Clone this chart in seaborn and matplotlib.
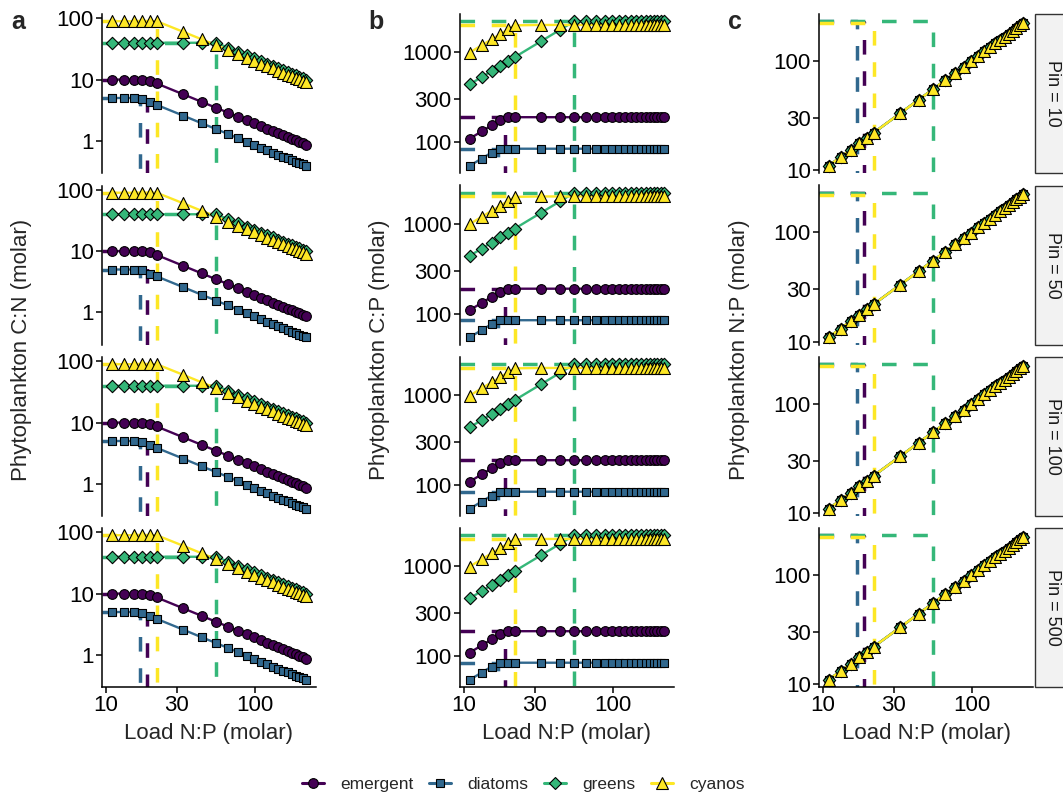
import numpy as np
import pandas as pd
import matplotlib
matplotlib.use("Agg")
import matplotlib.pyplot as plt
import seaborn as sns
from matplotlib.lines import Line2D
from matplotlib.patches import Rectangle
from matplotlib.ticker import FixedLocator, FixedFormatter, NullLocator

# ---------------------------------------------------------------- data
species = ["emergent", "diatoms", "greens", "cyanos"]
pin_levels = [10, 50, 100, 500]

load_np = [11, 13.2, 15.4, 17.6, 19.8, 22, 33, 44, 55, 66, 77, 88, 99,
           110, 121, 132, 143, 154, 165, 176, 187, 198, 209, 220]

# phytoplankton C:N (molar)
cn_emergent = [10, 10, 10, 10, 9.6, 8.64, 5.76, 4.32, 3.45, 2.88, 2.47, 2.16,
               1.92, 1.73, 1.57, 1.44, 1.33, 1.23, 1.15, 1.08, 1.02, 0.96, 0.91, 0.86]
cn_diatoms = [5, 5, 5, 4.83, 4.29, 3.86, 2.58, 1.93, 1.55, 1.29, 1.10, 0.97,
              0.86, 0.77, 0.70, 0.64, 0.59, 0.55, 0.52, 0.48, 0.45, 0.43, 0.41, 0.39]
cn_greens = [40, 40, 40, 40, 40, 40, 40, 40, 40, 33.3, 28.6, 25.0,
             22.2, 20.0, 18.2, 16.7, 15.4, 14.3, 13.3, 12.5, 11.8, 11.1, 10.5, 10.0]
cn_cyanos = [90, 90, 90, 90, 90, 90, 60.6, 45.5, 36.4, 30.3, 26.0, 22.7,
             20.2, 18.2, 16.5, 15.2, 14.0, 13.0, 12.1, 11.4, 10.7, 10.1, 9.6, 9.1]

# phytoplankton C:P (molar)
cp_emergent = [110, 132, 154, 176, 190, 190, 190, 190, 190, 190, 190, 190,
               190, 190, 190, 190, 190, 190, 190, 190, 190, 190, 190, 190]
cp_diatoms = [55, 66, 77, 85, 85, 85, 85, 85, 85, 85, 85, 85,
              85, 85, 85, 85, 85, 85, 85, 85, 85, 85, 85, 85]
cp_greens = [440, 528, 616, 704, 792, 880, 1320, 1760, 2200, 2200, 2200, 2200,
             2200, 2200, 2200, 2200, 2200, 2200, 2200, 2200, 2200, 2200, 2200, 2200]
cp_cyanos = [990, 1188, 1386, 1584, 1782, 1980, 2000, 2000, 2000, 2000, 2000, 2000,
             2000, 2000, 2000, 2000, 2000, 2000, 2000, 2000, 2000, 2000, 2000, 2000]

# phytoplankton N:P (molar) -- identical for all four groups
cell_np = [11, 13.2, 15.4, 17.6, 19.8, 22, 33, 44, 55, 66, 77, 88, 99,
           110, 121, 132, 143, 154, 165, 176, 187, 198, 209, 220]

# critical load N:P of each group and the plateau it marks
crit_np = [19, 17, 55, 22]
cn_max = [10, 5, 40, 90]
cp_max = [190, 85, 2200, 2000]
np_top = [226, 228, 228, 218]

cn_vals = dict(zip(species, [cn_emergent, cn_diatoms, cn_greens, cn_cyanos]))
cp_vals = dict(zip(species, [cp_emergent, cp_diatoms, cp_greens, cp_cyanos]))

rows = []
for pin in pin_levels:
    for sp in species:
        for i, x in enumerate(load_np):
            rows.append(dict(pin=pin, species=sp, load=x,
                             cn=cn_vals[sp][i], cp=cp_vals[sp][i], np=cell_np[i]))
df = pd.DataFrame(rows)

# ---------------------------------------------------------------- style
sns.set_theme(style="ticks")
plt.rcParams["font.family"] = ["Liberation Sans", "DejaVu Sans"]

palette = dict(zip(species, ["#440154", "#31688E", "#35B779", "#FDE725"]))
markers = dict(zip(species, ["o", "s", "D", "^"]))
msize = dict(zip(species, [7.0, 6.0, 6.3, 8.6]))

W, H = 1063, 796
fig = plt.figure(figsize=(W / 100, H / 100), dpi=100)


def box(x0, y0, w, h):
    return [x0 / W, 1 - (y0 + h) / H, w / W, h / H]


def log_limits(vals, frac=0.05):
    lo, hi = np.log10(min(vals)), np.log10(max(vals))
    pad = (hi - lo) * frac
    return 10 ** (lo - pad), 10 ** (hi + pad)


col_x = [102, 460, 819]
col_w = 214
row_y = [14, 185.5, 357, 528]
row_h = 159

panels = [
    dict(col="cn", ref=cn_max, ticks=[1, 10, 100], labels=["1", "10", "100"],
         title="Phytoplankton C:N (molar)", letter="a"),
    dict(col="cp", ref=cp_max, ticks=[100, 300, 1000], labels=["100", "300", "1000"],
         title="Phytoplankton C:P (molar)", letter="b"),
    dict(col="np", ref=np_top, ticks=[10, 30, 100], labels=["10", "30", "100"],
         title="Phytoplankton N:P (molar)", letter="c"),
]

xlim = log_limits(load_np)

for r, pin in enumerate(pin_levels):
    sub_pin = df[df.pin == pin]
    for c, p in enumerate(panels):
        ax = fig.add_axes(box(col_x[c], row_y[r], col_w, row_h))
        ax.set_xscale("log")
        ax.set_yscale("log")
        ylim = log_limits(list(sub_pin[p["col"]]) + list(p["ref"]))

        # dashed guides: plateau value from the left edge, then down at the critical N:P
        for i, sp in enumerate(species):
            yv = p["ref"][i]
            ax.plot([xlim[0], crit_np[i], crit_np[i]], [yv, yv, ylim[0]],
                    color=palette[sp], lw=2.5, ls=(0, (4.2, 4.8)),
                    dash_joinstyle="round", dash_capstyle="butt", zorder=1)

        sns.lineplot(data=sub_pin, x="load", y=p["col"], hue="species",
                     hue_order=species, palette=palette, lw=1.7,
                     estimator=None, legend=False, ax=ax, zorder=2)
        for sp in species:
            sns.scatterplot(data=sub_pin[sub_pin.species == sp], x="load", y=p["col"],
                            color=palette[sp], marker=markers[sp], s=msize[sp] ** 2,
                            edgecolor="black", linewidth=0.8, legend=False,
                            ax=ax, zorder=3, clip_on=False)

        ax.set_xlim(xlim)
        ax.set_ylim(ylim)
        ax.set_xlabel("")
        ax.set_ylabel("")
        for s in ["top", "right"]:
            ax.spines[s].set_visible(False)
        ax.spines["left"].set_linewidth(1.1)
        ax.spines["left"].set_color("black")

        ax.yaxis.set_major_locator(FixedLocator(p["ticks"]))
        ax.yaxis.set_major_formatter(FixedFormatter(p["labels"]))
        ax.yaxis.set_minor_locator(NullLocator())
        ax.xaxis.set_major_locator(FixedLocator([10, 30, 100]))
        ax.xaxis.set_major_formatter(FixedFormatter(["10", "30", "100"]))
        ax.xaxis.set_minor_locator(NullLocator())
        ax.tick_params(axis="both", length=4, width=1.1, labelsize=16,
                       pad=2, colors="black")

        if r < 3:
            ax.spines["bottom"].set_visible(False)
            ax.tick_params(axis="x", bottom=False, labelbottom=False)
        else:
            ax.spines["bottom"].set_linewidth(1.1)
            ax.spines["bottom"].set_color("black")

        if c == 2:
            x0, y0 = 1035, row_y[r]
            fig.patches.append(Rectangle((x0 / W, 1 - (y0 + row_h) / H),
                                         40 / W, row_h / H, transform=fig.transFigure,
                                         facecolor="#f2f2f2", edgecolor="#333333",
                                         lw=1.0, zorder=0))
            fig.text(1052 / W, 1 - (y0 + row_h / 2) / H, f"Pin = {pin}",
                     rotation=270, ha="center", va="center", fontsize=13,
                     color="#1a1a1a")

# axis titles and panel letters
for c, p in enumerate(panels):
    fig.text((col_x[c] + col_w / 2) / W, 1 - 733 / H, "Load N:P (molar)",
             ha="center", va="center", fontsize=16)
    fig.text((col_x[c] - 80) / W, 1 - 350 / H, p["title"], rotation=90,
             ha="center", va="center", fontsize=16)
    fig.text((col_x[c] - 84) / W, 1 - 22 / H, p["letter"], ha="center",
             va="center", fontsize=18, fontweight="bold")

handles = [Line2D([0], [0], color=palette[sp], lw=2.2, marker=markers[sp],
                  markersize=msize[sp], markerfacecolor=palette[sp],
                  markeredgecolor="black", markeredgewidth=0.8)
           for sp in species]
fig.legend(handles, species, loc="center", bbox_to_anchor=(523 / W, 1 - 784 / H),
           ncol=4, frameon=False, fontsize=12.5, handlelength=1.3,
           handletextpad=0.9, columnspacing=0.9, numpoints=1)

fig.savefig("out.png", dpi=100)
